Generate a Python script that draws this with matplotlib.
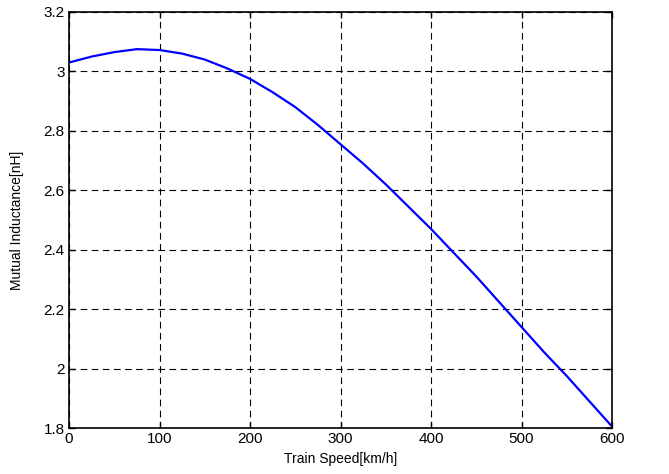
import numpy as np
import matplotlib.pyplot as plt

plt.rcParams['font.family'] = ['Liberation Sans', 'DejaVu Sans']

# === Data ===
speed = [0, 25, 50, 75, 100, 125, 150, 175, 200, 225, 250, 275, 300,
         325, 350, 375, 400, 425, 450, 475, 500, 525, 550, 575, 600]
inductance = [3.03, 3.05, 3.065, 3.075, 3.072, 3.06, 3.04, 3.01, 2.975, 2.93,
              2.88, 2.82, 2.755, 2.69, 2.62, 2.545, 2.47, 2.39, 2.31, 2.225,
              2.14, 2.055, 1.975, 1.89, 1.805]
xticks = [0, 100, 200, 300, 400, 500, 600]
yticks = [1.8, 2, 2.2, 2.4, 2.6, 2.8, 3, 3.2]
ytick_labels = ['1.8', '2', '2.2', '2.4', '2.6', '2.8', '3', '3.2']

# === Plot ===
fig = plt.figure(figsize=(6.69, 4.74), dpi=100)
ax = fig.add_axes([69 / 669, 1 - 428 / 474, (612 - 69) / 669, (428 - 12) / 474])

ax.plot(speed, inductance, color='#0000ff', linewidth=1.6)

ax.set_xlim(0, 600)
ax.set_ylim(1.8, 3.2)
ax.set_xticks(xticks)
ax.set_yticks(yticks)
ax.set_yticklabels(ytick_labels)
ax.tick_params(direction='in', length=4, width=1, labelsize=11,
               top=True, right=True, pad=3)
ax.grid(True, color='black', linestyle=(0, (6, 4)), linewidth=0.8)

for s in ax.spines.values():
    s.set_linewidth(1.2)

ax.set_xlabel("Train Speed[km/h]", fontsize=10, labelpad=4)
ax.set_ylabel("Mutual Inductance[nH]", fontsize=10, labelpad=14)

fig.savefig("out.png", dpi=100)
